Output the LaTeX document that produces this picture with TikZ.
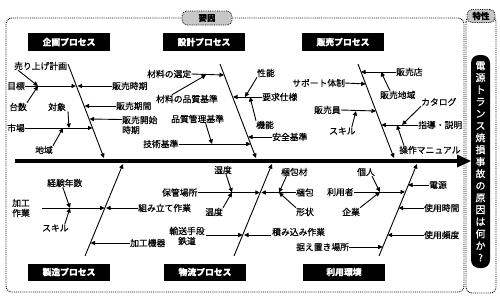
\documentclass[tikz,border=0pt]{standalone}
\usepackage{fontspec}
\setmainfont{Noto Sans CJK JP}[FakeBold=0.6]
\usetikzlibrary{arrows.meta,calc}
\begin{document}
\begin{tikzpicture}[x=1pt,y=-1pt,
  lbl/.style={inner sep=0pt,anchor=west,font=\fontsize{8.8}{10}\selectfont},
  proc/.style={fill=black,text=white,font=\bfseries\fontsize{8.8}{10}\selectfont,minimum width=82pt,minimum height=18pt,inner sep=0pt},
  arr/.style={-{Triangle[length=4.5pt,width=4.2pt]},line width=0.9pt},
  bone/.style={line width=0.8pt},
  tag/.style={fill=black!22,draw=black,densely dotted,line width=0.8pt,rounded corners=5pt,inner sep=0pt,font=\bfseries\fontsize{8.5}{10}\selectfont}]
\useasboundingbox (0,0) rectangle (500,298);
% frames
\draw[densely dotted,line width=0.9pt,rounded corners=6pt] (6,18) rectangle (464,292);
\draw[densely dotted,line width=0.9pt,rounded corners=6pt] (466,16) rectangle (496,293);
\node[tag,minimum width=50pt,minimum height=14pt] (yoin) at (207,18) {要因};
\node[tag,minimum width=28pt,minimum height=13pt] (tokusei) at (481,16) {特性};
\node[fill=black,text=white,rounded corners=8pt,minimum width=19pt,minimum height=213pt,inner sep=0pt,align=center,font=\fontsize{10}{12}\selectfont] (goal) at (480.5,161.5)
 {電\\源\\ト\\ラ\\ン\\ス\\焼\\損\\事\\故\\の\\原\\因\\は\\何\\か\\?};
% spine
\coordinate (sp0) at (15,161);
\coordinate (sp1) at (458,161);
\coordinate (tip) at (471,161);
\draw[line width=3.6pt] (sp0) -- (sp1);
\fill (457,154.5) -- (tip) -- (457,167.5) -- cycle;
% process labels
\node[proc] (pK) at (69,42) {企画プロセス};
\node[proc] (pS) at (204,42) {設計プロセス};
\node[proc] (pH) at (343,42) {販売プロセス};
\node[proc,minimum height=17pt] (pM) at (69,272) {製造プロセス};
\node[proc,minimum height=17pt] (pB) at (205,272) {物流プロセス};
\node[proc,minimum height=17pt] (pR) at (344,272) {利用環境};
% main bones
\coordinate (K0) at (68,64);  \coordinate (K1) at (104,158);
\coordinate (S0) at (220,64); \coordinate (S1) at (256,158);
\coordinate (H0) at (358,64); \coordinate (H1) at (394,158);
\draw[arr] (K0) -- (K1);
\draw[arr] (S0) -- (S1);
\draw[arr] (H0) -- (H1);
\coordinate (M0) at (85,256);  \coordinate (M1) at (123,164);
\coordinate (B0) at (234,256); \coordinate (B1) at (272,164);
\coordinate (R0) at (379,256); \coordinate (R1) at (417,164);
\draw[arr] (M0) -- (M1);
\draw[arr] (B0) -- (B1);
\draw[arr] (R0) -- (R1);
% ---- planning
\node[lbl] (uri) at (14,66) {売り上げ計画};
\node[lbl] (mok) at (7,86) {目標};
\node[lbl] (hji) at (112,86) {販売時期};
\node[lbl] (dai) at (9,107) {台数};
\node[lbl] (hki) at (116,106) {販売期間};
\node[lbl] (tai) at (48,107) {対象};
\node[lbl,align=left] (hka) at (122,125) {販売開始\\時期};
\node[lbl] (shi) at (7,128) {市場};
\node[lbl] (chi) at (35,150) {地域};
\coordinate (k1) at (76,86); \coordinate (k1b) at (38,86);
\coordinate (k2) at (84.5,106);
\coordinate (k3) at (89.5,119);
\coordinate (k4) at (92.5,128); \coordinate (k4a) at (69,128); \coordinate (k4b) at (63,128);
\draw[arr] (mok.east) -- (k1);
\draw[arr] (hji.west) -- ([xshift=1.5pt]k1);
\draw[arr] ([xshift=4pt]uri.south west) -- (k1b);
\draw[arr] (dai.north east) -- (k1b);
\draw[arr] (hki.west) -- (k2);
\draw[arr] ([yshift=5.5pt]hka.west) -- (k3);
\draw[arr] (shi.east) -- (k4);
\draw[arr] ([xshift=2pt]tai.south east) -- (k4a);
\draw[arr] (chi.north east) -- (k4b);
% ---- design
\node[lbl] (zse) at (147,74) {材料の選定};
\node[lbl] (zhi) at (156,99) {材料の品質基準};
\node[lbl] (hin) at (171,119) {品質管理基準};
\node[lbl] (gij) at (143,144) {技術基準};
\node[lbl] (sei) at (257,73) {性能};
\node[lbl] (yok) at (262,97) {要求仕様};
\node[lbl] (kin) at (256,125) {機能};
\node[lbl] (anz) at (272,137) {安全基準};
\coordinate (s1) at (224,75); \coordinate (s1b) at (206,75);
\coordinate (s2) at (233,97); \coordinate (s2b) at (245,97);
\coordinate (s3) at (248,137);
\coordinate (s4) at (250.6,144); \coordinate (s4b) at (212,144);
\draw[arr] (zse.east) -- (s1);
\draw[arr] ([xshift=-15pt]zhi.north) -- (s1b);
\draw[arr] (yok.west) -- (s2);
\draw[arr] (sei.south west) -- (s2b);
\draw[arr] (kin.north west) -- ([xshift=5pt]s2b);
\draw[arr] (gij.east) -- (s4);
\draw[arr] ([xshift=8pt]hin.south) -- (s4b);
\draw[arr] (anz.west) -- (s3);
% ---- sales
\node[lbl] (hte) at (396,72) {販売店};
\node[lbl] (sap) at (292,83) {サポート体制};
\node[lbl] (hch) at (380,95) {販売地域};
\node[lbl] (hin2) at (314,110) {販売員};
\node[lbl] (ski) at (329,131) {スキル};
\node[lbl] (kat) at (421,102) {カタログ};
\node[lbl] (shd) at (418,125) {指導・説明};
\node[lbl] (sos) at (399,150) {操作マニュアル};
\coordinate (h1) at (361,72); \coordinate (h1b) at (381,72);
\coordinate (h2) at (365.7,84);
\coordinate (h3) at (376,111); \coordinate (h3b) at (356,111);
\coordinate (h4) at (381.4,125); \coordinate (h4b) at (402,125); \coordinate (h4c) at (397,125);
\draw[arr] (hte.west) -- (h1);
\draw[arr] ([xshift=10pt]hch.north west) -- (h1b);
\draw[arr] (sap.east) -- (h2);
\draw[arr] (hin2.east) -- (h3);
\draw[arr] ([xshift=-4pt]ski.north east) -- (h3b);
\draw[arr] (shd.west) -- (h4);
\draw[arr] (kat.south west) -- (h4b);
\draw[arr] ([xshift=5pt]sos.north west) -- (h4c);
% ---- manufacturing
\node[lbl] (kei) at (47,183) {経験年数};
\node[lbl,align=left] (kak) at (12,208) {加工\\作業};
\node[lbl] (ski2) at (42,228) {スキル};
\node[lbl] (kum) at (138,208) {組み立て作業};
\node[lbl] (kki) at (130,243) {加工機器};
\coordinate (m1) at (104.6,208); \coordinate (m1b) at (70,208);
\coordinate (m2) at (90.5,243);
\coordinate (kakS) at (42,208);
\draw[arr] (kakS) -- (m1);
\draw[arr] ([xshift=-2pt]kei.south) -- (m1b);
\draw[arr] ([xshift=-4pt]ski2.north east) -- (m1b);
\draw[arr] (kum.west) -- ([xshift=1.5pt]m1);
\draw[arr] (kki.west) -- (m2);
% ---- logistics
\node[lbl] (shi2) at (214,170) {湿度};
\node[lbl] (hok) at (162,192.5) {保管場所};
\node[lbl] (ond) at (205,212) {温度};
\node[lbl] (kpz) at (281,172) {梱包材};
\node[lbl] (kpo) at (296,192.5) {梱包};
\node[lbl] (kei2) at (296,212) {形状};
\node[lbl,align=center,anchor=center] (yus) at (187,236) {輸送手段\\鉄道};
\node[lbl] (tsu) at (272,232) {積み込み作業};
\node[lbl] (sue) at (296,247) {据え置き場所};
\coordinate (b1) at (259.8,192.5); \coordinate (b1b) at (232,192.5);
\coordinate (b1c) at (279,192.5);
\coordinate (b2) at (242.6,235);
\coordinate (yusE) at (206,235);
\coordinate (tsuS) at (271,235);
\draw[arr] (hok.east) -- (b1);
\draw[arr] ([xshift=3pt]shi2.south) -- (b1b);
\draw[arr] (ond.north east) -- (b1b);
\draw[arr] (kpo.west) -- ([xshift=1.5pt]b1);
\draw[arr] ([xshift=-8pt]kpz.south) -- (b1c);
\draw[arr] (kei2.north west) -- (b1c);
\draw[arr] (yusE) -- (b2);
\draw[arr] (tsuS) -- ([xshift=1.5pt]b2);
% ---- usage
\node[lbl] (koj) at (357,172) {個人};
\node[lbl] (riy) at (327,192) {利用者};
\node[lbl] (kig) at (342,212) {企業};
\node[lbl] (den) at (429,185) {電源};
\node[lbl] (sji) at (424,208) {使用時間};
\node[lbl] (shin) at (424,235) {使用頻度};
\coordinate (r1) at (405,192); \coordinate (r1b) at (380,192);
\coordinate (r2) at (408,185);
\coordinate (r3) at (398.6,208);
\coordinate (r4) at (387.6,235);
\coordinate (r5) at (382.7,247);
\draw[arr] (riy.east) -- (r1);
\draw[arr] ([xshift=-3pt]koj.south east) -- (r1b);
\draw[arr] (kig.north east) -- (r1b);
\draw[arr] (den.west) -- (r2);
\draw[arr] (sji.west) -- (r3);
\draw[arr] (shin.west) -- (r4);
\draw[arr] (sue.east) -- (r5);
\end{tikzpicture}
\end{document}
